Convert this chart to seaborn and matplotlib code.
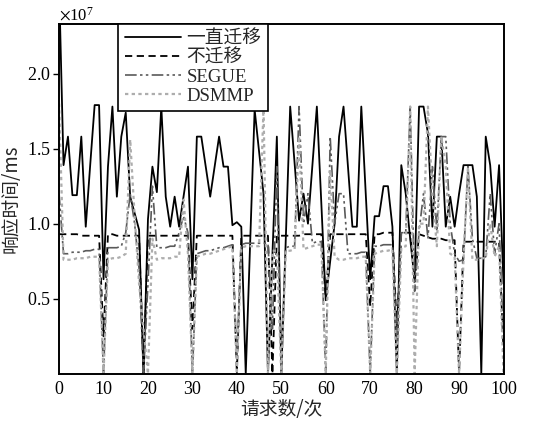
import numpy as np
import pandas as pd
import matplotlib
matplotlib.use("Agg")
import matplotlib.pyplot as plt
import seaborn as sns
from matplotlib.ticker import ScalarFormatter, MultipleLocator

# ---------------- data (response time, x 1e7 ms) ----------------
requests = list(range(0, 101))

always_migrate = [
    2.60, 1.39, 1.58, 1.19, 1.19, 1.58, 0.98, 1.39, 1.79, 1.79,
    0.63, 1.38, 1.78, 1.18, 1.58, 1.74, 1.18, 1.07, 0.96, 0.00,
    1.03, 1.38, 1.21, 1.78, 1.18, 0.98, 1.18, 0.98, 1.18, 1.38,
    0.63, 1.58, 1.58, 1.38, 1.18, 1.38, 1.58, 1.38, 1.38, 0.99,
    1.01, 0.98, 0.00, 0.88, 1.76, 1.48, 1.20, 0.00, 0.79, 1.58,
    0.00, 0.89, 1.78, 1.40, 1.02, 1.20, 1.00, 1.39, 1.78, 1.14,
    0.49, 0.75, 1.00, 1.58, 1.78, 1.38, 0.98, 0.98, 1.78, 1.20,
    0.63, 1.05, 1.05, 1.25, 1.25, 0.98, 0.00, 1.39, 1.20, 0.90,
    0.63, 1.78, 1.78, 1.60, 0.98, 1.58, 1.58, 0.98, 1.18, 0.98,
    1.20, 1.39, 1.39, 1.39, 1.18, 0.00, 1.58, 1.39, 0.98, 1.39,
    0.60,
]

no_migrate = [
    0.93, 0.93, 0.93, 0.93, 0.93, 0.92, 0.92, 0.92, 0.92, 0.92,
    0.25, 0.93, 0.93, 0.92, 0.92, 0.92, 0.92, 0.92, 0.92, 0.00,
    0.92, 0.92, 0.92, 0.92, 0.92, 0.92, 0.92, 0.92, 0.92, 0.92,
    0.30, 0.92, 0.92, 0.92, 0.92, 0.92, 0.92, 0.92, 0.92, 0.92,
    0.00, 0.92, 0.92, 0.92, 0.92, 0.92, 0.92, 0.92, 0.00, 0.92,
    0.92, 0.92, 0.92, 0.92, 0.92, 0.93, 0.93, 0.93, 0.93, 0.93,
    0.50, 0.93, 0.93, 0.93, 0.93, 0.93, 0.93, 0.93, 0.93, 0.93,
    0.45, 0.93, 0.93, 0.94, 0.94, 0.94, 0.30, 0.94, 0.94, 0.94,
    0.60, 0.93, 0.92, 0.91, 0.90, 0.90, 0.90, 0.89, 0.89, 0.89,
    0.00, 0.88, 0.88, 0.88, 0.88, 0.88, 0.88, 0.88, 0.88, 0.88,
    0.15,
]

segue = [
    1.20, 0.80, 0.80, 0.81, 0.81, 0.81, 0.82, 0.82, 0.83, 0.83,
    0.00, 0.84, 0.84, 0.84, 0.85, 0.94, 1.20, 1.00, 0.70, 0.00,
    0.60, 1.25, 0.84, 0.84, 0.84, 0.85, 0.85, 0.94, 1.05, 0.94,
    0.00, 0.80, 0.81, 0.82, 0.82, 0.83, 0.84, 0.84, 0.85, 0.86,
    0.10, 0.86, 0.87, 0.87, 0.87, 0.87, 0.87, 0.87, 0.30, 1.38,
    0.00, 0.84, 0.85, 0.85, 1.78, 1.00, 1.20, 0.87, 0.88, 0.88,
    0.00, 1.58, 1.00, 1.20, 1.20, 0.80, 0.80, 0.80, 0.81, 0.81,
    0.00, 0.85, 0.85, 0.86, 0.86, 0.86, 0.20, 0.94, 0.94, 1.78,
    0.55, 0.95, 1.20, 0.90, 1.38, 0.95, 1.58, 1.58, 1.00, 0.80,
    0.75, 0.76, 1.38, 0.90, 0.77, 0.77, 0.78, 1.20, 0.80, 1.00,
    0.20,
]

dsmmp = [
    1.80, 0.76, 0.76, 0.76, 0.77, 0.77, 0.77, 0.78, 0.78, 0.78,
    0.00, 0.76, 0.77, 0.77, 0.78, 0.80, 1.56, 1.05, 0.60, 0.30,
    0.00, 0.90, 0.76, 0.77, 0.77, 0.77, 0.78, 0.78, 1.16, 0.80,
    0.00, 0.78, 0.79, 0.80, 0.80, 0.81, 0.82, 0.83, 0.84, 0.85,
    0.00, 0.84, 0.85, 0.85, 0.85, 0.85, 1.78, 0.00, 0.82, 0.82,
    0.00, 0.82, 0.82, 0.83, 1.58, 0.83, 0.84, 0.85, 0.86, 0.86,
    0.00, 1.36, 0.78, 0.76, 0.76, 0.77, 0.77, 0.77, 0.78, 0.78,
    0.00, 0.80, 0.81, 0.82, 0.82, 0.83, 0.00, 0.84, 0.85, 1.78,
    0.00, 1.00, 1.00, 1.78, 1.20, 0.85, 1.58, 1.38, 0.80, 0.78,
    0.00, 0.76, 1.38, 0.76, 0.76, 0.77, 0.77, 1.00, 0.78, 0.85,
    0.00,
]

labels = ["一直迁移", "不迁移", "SEGUE", "DSMMP"]
series = [always_migrate, no_migrate, segue, dsmmp]

# ---------------- style ----------------
sns.set_style("ticks")
plt.rcParams["font.family"] = ["Liberation Serif", "Noto Sans CJK SC"]
plt.rcParams["mathtext.fontset"] = "stix"
plt.rcParams["axes.linewidth"] = 1.4

fig = plt.figure(figsize=(5.42, 4.21), dpi=100)
ax = fig.add_axes([0.109, 0.112, 0.820, 0.831])

colors = ["#000000", "#000000", "#5a5a5a", "#adadad"]
styles = ["-", (0, (4, 2.5)), (0, (7, 2, 1.5, 2, 1.5, 2)), (0, (1.5, 1.5))]
widths = [1.3, 1.3, 1.2, 1.6]

for lab, vals, c, ls, lw in zip(labels, series, colors, styles, widths):
    df = pd.DataFrame({"x": requests, "y": np.array(vals) * 1e7})
    sns.lineplot(data=df, x="x", y="y", ax=ax, color=c, linestyle=ls,
                 linewidth=lw, label=lab, estimator=None)

ax.set_xlim(0, 100)
ax.set_ylim(0, 2.33e7)
ax.xaxis.set_major_locator(MultipleLocator(10))
fmt = ScalarFormatter(useMathText=True)
fmt.set_powerlimits((7, 7))
ax.yaxis.set_major_formatter(fmt)
ax.set_yticks([0.5e7, 1.0e7, 1.5e7, 2.0e7])
ax.tick_params(axis="y", direction="out", length=4, width=1.0,
               labelsize=13, colors="black", pad=2)
ax.tick_params(axis="x", length=0, labelsize=13, colors="black", pad=5)
ax.yaxis.get_offset_text().set_fontsize(12)

for s in ax.spines.values():
    s.set_visible(True)
    s.set_color("black")

ax.set_xlabel("请求数/次", fontsize=13.5, family=["Noto Sans CJK SC"], labelpad=1)
ax.set_ylabel("响应时间/ms", fontsize=13.5, family=["Noto Sans CJK SC"], labelpad=4)

leg = ax.legend(loc="upper left", bbox_to_anchor=(0.133, 1.0), fontsize=13.5,
                frameon=True, fancybox=False, framealpha=1, edgecolor="black",
                handlelength=3.0, handletextpad=0.3, labelspacing=0.1,
                borderpad=0.35, borderaxespad=0)
leg.get_frame().set_linewidth(1.2)
for t in leg.get_texts():
    t.set_family(["Liberation Serif", "Noto Sans CJK SC"])

fig.savefig("out.png", dpi=100)
